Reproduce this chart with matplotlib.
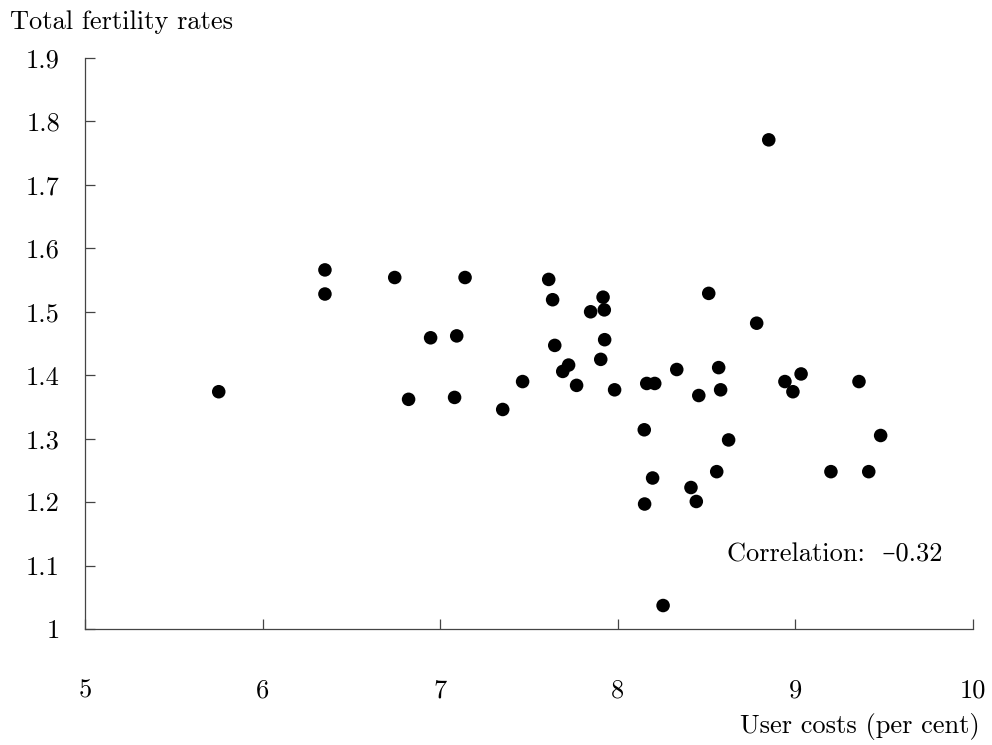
import matplotlib
matplotlib.use("Agg")
import matplotlib.pyplot as plt
from matplotlib.ticker import FuncFormatter, MultipleLocator

plt.rcParams["font.family"] = ["cmr10", "DejaVu Serif"]
plt.rcParams["axes.formatter.use_mathtext"] = True

# user costs (per cent) vs total fertility rates
user_costs = [5.753, 6.351, 6.351, 6.744, 6.822, 6.946, 7.081, 7.093, 7.140, 7.352,
              7.464, 7.611, 7.633, 7.645, 7.690, 7.723, 7.768, 7.847, 7.904, 7.917,
              7.924, 7.926, 7.982, 8.149, 8.151, 8.163, 8.196, 8.208, 8.255, 8.332,
              8.412, 8.442, 8.456, 8.512, 8.557, 8.568, 8.579, 8.624, 8.782, 8.850,
              8.941, 8.986, 9.032, 9.200, 9.358, 9.413, 9.480]
fertility = [1.374, 1.566, 1.528, 1.554, 1.362, 1.459, 1.365, 1.462, 1.554, 1.346,
             1.390, 1.551, 1.519, 1.447, 1.406, 1.416, 1.384, 1.500, 1.425, 1.523,
             1.503, 1.456, 1.377, 1.314, 1.197, 1.387, 1.238, 1.387, 1.037, 1.409,
             1.223, 1.201, 1.368, 1.529, 1.248, 1.412, 1.377, 1.298, 1.482, 1.771,
             1.390, 1.374, 1.402, 1.248, 1.390, 1.248, 1.305]
correlation = "Correlation:  \u20130.32"

fig = plt.figure(figsize=(9.92, 7.45), dpi=100)
ax = fig.add_axes([85 / 992, 1 - 629 / 745, (973 - 85) / 992, (629 - 58) / 745])

ax.scatter(user_costs, fertility, s=95, color="black", edgecolors="none", clip_on=False, zorder=3)

ax.set_xlim(5, 10)
ax.set_ylim(1, 1.9)
ax.xaxis.set_major_locator(MultipleLocator(1))
ax.yaxis.set_major_locator(MultipleLocator(0.1))
ax.xaxis.set_major_formatter(FuncFormatter(lambda v, p: f"{v:g}"))
ax.yaxis.set_major_formatter(FuncFormatter(lambda v, p: f"{round(v, 1):g}"))

for side in ["top", "right"]:
    ax.spines[side].set_visible(False)
for side in ["left", "bottom"]:
    ax.spines[side].set_color("#444444")
    ax.spines[side].set_linewidth(0.9)

ax.tick_params(axis="both", direction="in", length=7, width=0.9, color="#444444",
               labelsize=19, labelcolor="black")
ax.tick_params(axis="x", pad=36)
ax.tick_params(axis="y", pad=18)

fig.text(10 / 992, 1 - 22 / 745, "Total fertility rates", fontsize=19, ha="left", va="center")
fig.text(980 / 992, 1 - 726 / 745, "User costs (per cent)", fontsize=19, ha="right", va="center")
ax.text(9.83, 1.117, correlation, fontsize=19, ha="right", va="center")

fig.savefig("out.png", dpi=100)
